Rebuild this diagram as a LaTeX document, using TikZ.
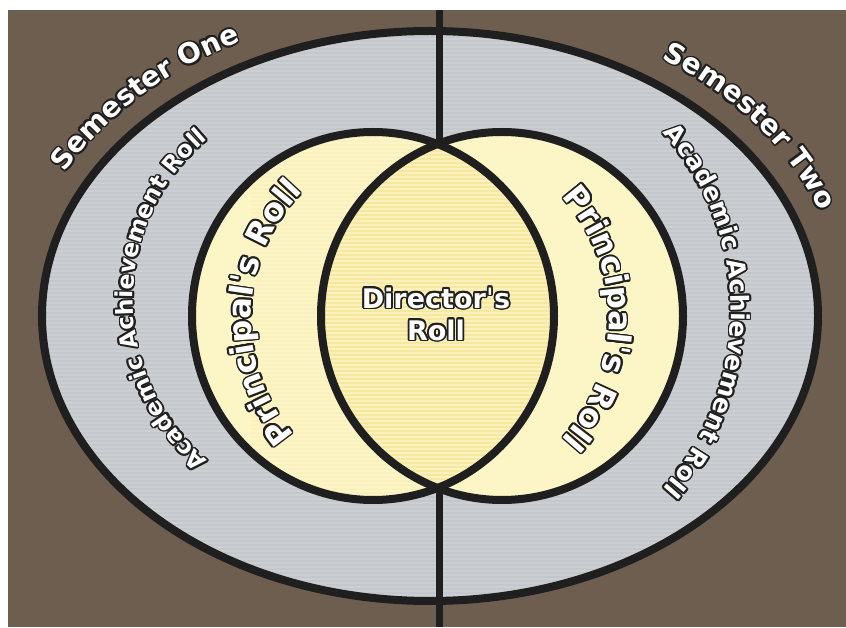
\documentclass[tikz,border=0pt]{standalone}
\usepackage{fontspec}
\setmainfont{DejaVu Sans}
\usetikzlibrary{decorations.text}
\definecolor{bgbrown}{HTML}{6E5E4F}
\definecolor{ringgray}{HTML}{C4C8CC}
\definecolor{ringstripe}{HTML}{CBCFD3}
\definecolor{inkdark}{HTML}{1F1F1F}
\definecolor{paleyellow}{HTML}{FCF5C5}
\definecolor{lensyellow}{HTML}{F6E89C}
\definecolor{lensstripe}{HTML}{FBF1BE}
\definecolor{txtline}{HTML}{202020}

\newcommand\semfont{\bfseries\fontsize{28}{30}\selectfont}
\newcommand\acafont{\bfseries\fontsize{23.5}{26}\selectfont}
\newcommand\acafontb{\bfseries\fontsize{25}{28}\selectfont}
\newcommand\prinfont{\bfseries\fontsize{32}{35}\selectfont}
\newcommand\dirfont{\bfseries\fontsize{27}{32}\selectfont}

\newcommand\halolist{1.7/0, -1.7/0, 0/1.7, 0/-1.7, 1.2/1.2, 1.2/-1.2, -1.2/1.2, -1.2/-1.2, 1.57/0.65, 0.65/1.57, -0.65/1.57, -1.57/0.65, -1.57/-0.65, -0.65/-1.57, 0.65/-1.57, 1.57/-0.65}

\newcommand\curvedlabel[2]{%
  \foreach \hx/\hy in \halolist {%
    \path[shift={(\hx,\hy)}, decorate, decoration={text along path, text align=center, text color=txtline, text={#2}}] #1;
  }%
  \path[decorate, decoration={text along path, text align=center, text color=white, text={#2}}] #1;
}

\tikzset{
  ringline/.style={draw=inkdark, line width=8pt},
  dirtext/.style={font=\dirfont, align=center, inner sep=0pt},
}

\begin{document}
\begin{tikzpicture}[x=1pt,y=1pt]
\useasboundingbox (0,0) rectangle (846,627);
\fill[white] (0,0) rectangle (846,627);
\fill[bgbrown] (8,0) rectangle (846,617);

% outer ellipse (gray ring)
\fill[ringgray] (430,311) ellipse [x radius=388, y radius=285];
\begin{scope}
  \clip (430,311) ellipse [x radius=388, y radius=285];
  \foreach \yy in {28,32,...,600} \draw[ringstripe, line width=1.2pt] (40,\yy) -- (820,\yy);
\end{scope}
\draw[ringline] (430,311) ellipse [x radius=388, y radius=285];

% vertical divider
\coordinate (divtop) at (439,617);
\coordinate (divbot) at (439,0);
\draw[inkdark, line width=7pt] (divtop) -- (divbot);

% inner circles
\fill[paleyellow] (373,311) ellipse [x radius=181, y radius=184];
\fill[paleyellow] (502,311) ellipse [x radius=181, y radius=184];
\begin{scope}
  \clip (373,311) ellipse [x radius=181, y radius=184];
  \fill[lensyellow] (502,311) ellipse [x radius=181, y radius=184];
  \foreach \yy in {126,130,...,500} \draw[lensstripe, line width=1.6pt] (250,\yy) -- (620,\yy);
\end{scope}
\draw[ringline] (373,311) ellipse [x radius=181, y radius=184];
\draw[ringline] (502,311) ellipse [x radius=181, y radius=184];

% curved labels
\curvedlabel{([shift={(161.7:412 and 309)}]430,311) arc[start angle=161.7, end angle=109.7, x radius=412, y radius=309]}{|\semfont|Semester One}
\curvedlabel{([shift={(63:414 and 311)}]430,311) arc[start angle=63, end angle=11, x radius=414, y radius=311]}{|\semfont|Semester Two}
\curvedlabel{([shift={(240:210)}]343,327) arc[start angle=240, end angle=120, radius=210]}{|\acafont|Academic Achievement Roll}
\curvedlabel{([shift={(50:266)}]465,316) arc[start angle=50, end angle=-50, radius=266]}{|\acafontb|Academic Achievement Roll}
\curvedlabel{([shift={(233:179)}]430,309) arc[start angle=233, end angle=123, radius=179]}{|\prinfont|Principalˈs Roll}
\curvedlabel{([shift={(55:179)}]430,309) arc[start angle=55, end angle=-55, radius=179]}{|\prinfont|Principalˈs Roll}

% centre label
\coordinate (dirpos) at (436,313);
\foreach \hx/\hy in \halolist {
  \node[dirtext, text=txtline] at ([shift={(\hx,\hy)}]dirpos) {Directorˈs\\Roll};
}
\node[dirtext, text=white] (director) at (dirpos) {Directorˈs\\Roll};
\end{tikzpicture}
\end{document}
